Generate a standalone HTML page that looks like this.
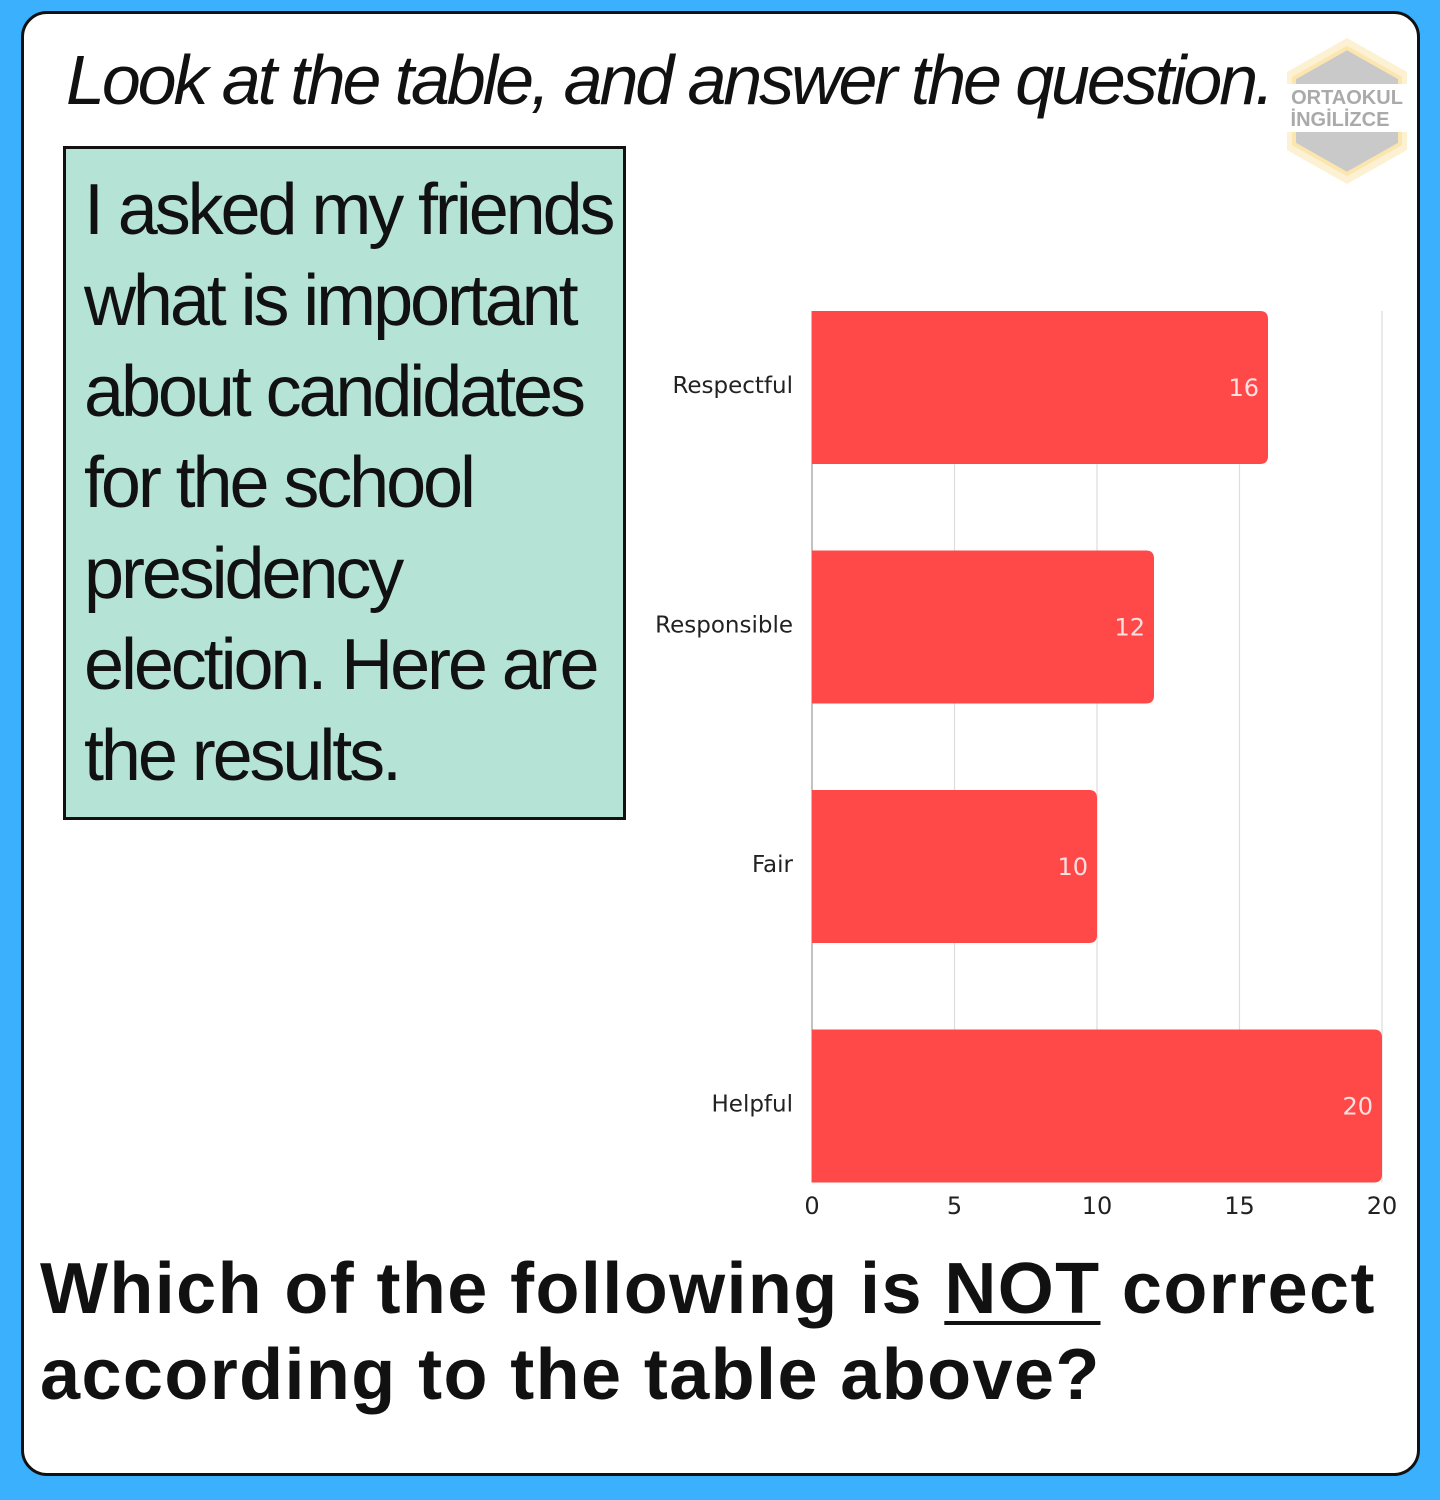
<!DOCTYPE html>
<html><head><meta charset="utf-8"><style>
body{margin:0;width:1440px;height:1500px;background:#3bb0fd;position:relative;overflow:hidden;font-family:"Liberation Sans",sans-serif}
#card{position:absolute;left:21px;top:11px;width:1393px;height:1459px;background:#fff;border:3px solid #111;border-radius:26px}
#title{position:absolute;left:66px;top:40px;font-style:italic;font-size:70px;letter-spacing:-3.1px;color:#111;white-space:nowrap}
#box{position:absolute;left:63px;top:146px;width:557px;height:668px;background:#b5e3d5;border:3px solid #111}
#box div{position:absolute;left:18px;font-size:72px;letter-spacing:-3.1px;color:#111;white-space:nowrap}
#q{position:absolute;left:40px;top:1246px;font-weight:bold;font-size:72px;line-height:86px;letter-spacing:1.4px;color:#111;white-space:nowrap}
#q u{text-decoration-thickness:4px;text-underline-offset:8px}
svg{position:absolute;left:0;top:0}
</style></head><body>
<div id="card"></div>
<div id="title">Look at the table, and answer the question.</div>
<svg width="1440" height="1500">
<polygon points="1347,38 1407,72 1407,150 1347,184 1287,150 1287,72" fill="#fdf1d3"/>
<polygon points="1347,48 1400,78 1400,144 1347,174 1294,144 1294,78" fill="#c9c9c9" stroke="#fbe6b0" stroke-width="4"/>
<rect x="1286" y="84" width="124" height="48" fill="#fff"/>
<text x="1347" y="104" font-size="20" font-weight="bold" fill="#aaa" text-anchor="middle" font-family="Liberation Sans">ORTAOKUL</text>
<text x="1340" y="126" font-size="20" font-weight="bold" fill="#aaa" text-anchor="middle" font-family="Liberation Sans">İNGİLİZCE</text>
</svg>
<div id="box">
<div style="top:20px">I asked my friends</div>
<div style="top:111px">what is important</div>
<div style="top:202px">about candidates</div>
<div style="top:293px">for the school</div>
<div style="top:384px">presidency</div>
<div style="top:475px">election. Here are</div>
<div style="top:566px">the results.</div>
</div>
<svg id="chart" width="1440" height="1500"></svg>
<div id="q">Which of the following is <u>NOT</u> correct<br>according to the table above?</div>
<script>
const categories=["Respectful","Responsible","Fair","Helpful"];
const values=[16,12,10,20];
const ticks=[0,5,10,15,20];
const svg=document.getElementById('chart');
const NS='http://www.w3.org/2000/svg';
const x0=812,x1=1382,xmax=20,yTop=311,band=239.5,barH=153;
const xs=v=>x0+(x1-x0)*v/xmax;
const yb=i=>yTop+i*band;
function mk(t,a){const e=document.createElementNS(NS,t);for(const k in a)e.setAttribute(k,a[k]);svg.appendChild(e);return e;}
ticks.forEach(t=>{
 const g=mk('line',{x1:xs(t),x2:xs(t),y1:yTop,y2:yb(categories.length-1)+barH,stroke:t===0?'#999':'#ddd','stroke-width':1.2});
 
 
 const l=mk('text',{x:xs(t),y:1214,'font-size':24,'text-anchor':'middle',fill:'#222','font-family':'DejaVu Sans'});
 l.textContent=t;
 
 
});
categories.forEach((c,i)=>{
 const w=xs(values[i])-x0;
 const b=mk('path',{d:`M${x0},${yb(i)} h${w-8} q8,0 8,8 v${barH-16} q0,8 -8,8 h${-(w-8)} z`,fill:'#ff4848'});
 
 
 const v=mk('text',{x:xs(values[i])-9,y:yb(i)+85,'font-size':24,'text-anchor':'end',fill:'#ffe0e0','font-family':'DejaVu Sans'});
 v.textContent=values[i];
 
 
 const l=mk('text',{x:793,y:yb(i)+82,'font-size':23,'text-anchor':'end',fill:'#222','font-family':'DejaVu Sans'});
 l.textContent=c;
 
 
});
</script>
</body></html>
